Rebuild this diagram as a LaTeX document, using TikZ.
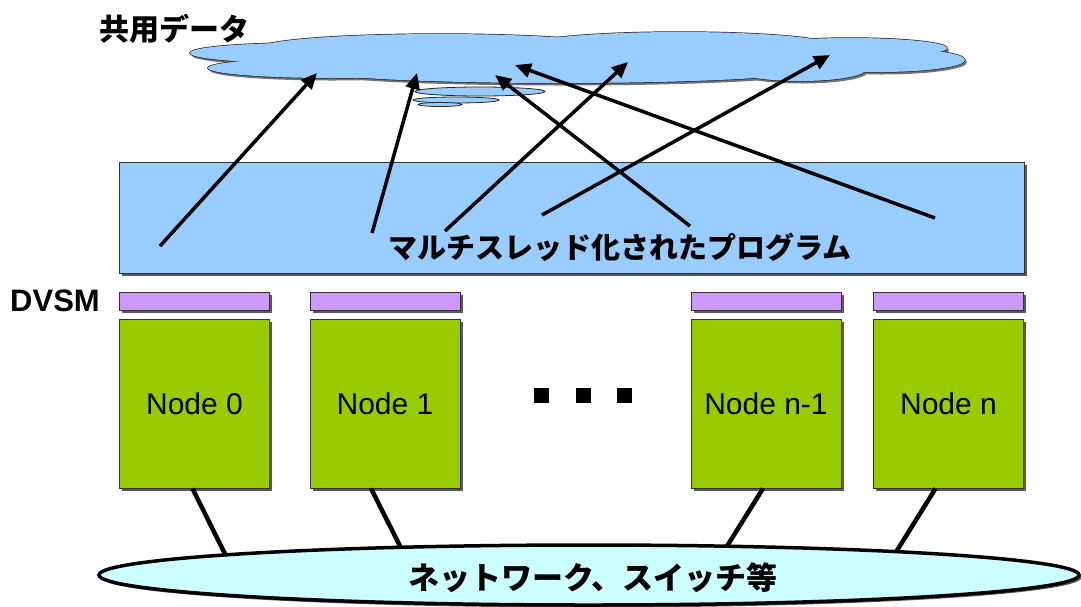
\documentclass[tikz,border=0pt]{standalone}
\usepackage{fontspec}
\setmainfont{Liberation Sans}
\newfontfamily\jp{Noto Sans CJK JP}
\usetikzlibrary{arrows.meta,shadows,shapes.geometric}
\definecolor{cloudblue}{HTML}{99CCFF}
\definecolor{dvsmviolet}{HTML}{CC99FF}
\definecolor{nodegreen}{HTML}{99CC00}
\definecolor{netcyan}{HTML}{CCFFFF}

\begin{document}
\begin{tikzpicture}[x=1pt,y=-1pt,
  hardshadow/.style={general shadow={fill=black!65,shadow xshift=2.5pt,shadow yshift=-2.5pt}},
  layerbox/.style={draw=black!80,line width=1pt,inner sep=0pt,hardshadow},
  dvsmbar/.style={layerbox,fill=dvsmviolet,minimum width=150pt,minimum height=18pt},
  nodebox/.style={layerbox,fill=nodegreen,minimum width=150pt,minimum height=169pt,
    font=\fontsize{30}{36}\selectfont},
  jplabel/.style={font=\jp\bfseries\fontsize{#1}{#1}\selectfont,inner sep=0pt},
  arrowline/.style={line width=3.5pt,-{Triangle[length=16pt,width=14pt]}},
  netline/.style={line width=4.5pt}]
  \useasboundingbox (0,0) rectangle (1081,606);

  % shared data cloud
  \def\cloudparts{300/53/110/10, 330/68/122/10, 440/48/180/14, 680/45/150/13,
    850/48/97/10, 880/60/85/12, 560/71/240/12, 800/70/65/11, 660/62/200/14}
  \foreach \cx/\cy/\rx/\ry in \cloudparts
    \fill[black!55] (\cx+2,\cy+2.5) ellipse [x radius=\rx,y radius=\ry];
  \foreach \cx/\cy/\rx/\ry in \cloudparts
    \draw[black!85,line width=1.4pt,fill=cloudblue] (\cx,\cy) ellipse [x radius=\rx,y radius=\ry];
  \foreach \cx/\cy/\rx/\ry in \cloudparts
    \fill[cloudblue] (\cx,\cy) ellipse [x radius=\rx,y radius=\ry];
  \foreach \cx/\cy/\rx/\ry in {480/91.5/65/4.5, 456/100/43/3, 440/104.5/22/2}
    \draw[black!85,line width=0.8pt,fill=cloudblue] (\cx,\cy) ellipse [x radius=\rx,y radius=\ry];
  \node[jplabel=30] (title) at (174,29) {共用データ};

  % program layer
  \node[layerbox,fill=cloudblue,minimum width=905pt,minimum height=111pt] (prog) at (571.5,217.5) {};
  \node[jplabel=29] (progtext) at (620,247) {マルチスレッド化されたプログラム};

  % DVSM and nodes
  \node[font=\bfseries\fontsize{31}{36}\selectfont] (dvsm) at (55,301) {DVSM};
  \node[dvsmbar] (d0) at (194.5,301) {};
  \node[dvsmbar] (d1) at (385,301) {};
  \node[dvsmbar] (d2) at (766,301) {};
  \node[dvsmbar] (d3) at (948.5,301) {};
  \node[nodebox] (n0) at (194.5,403.5) {Node 0};
  \node[nodebox] (n1) at (385,403.5) {Node 1};
  \node[nodebox] (n2) at (766,403.5) {Node n-1};
  \node[nodebox] (n3) at (948.5,403.5) {Node n};
  \foreach \i/\x in {1/541.5,2/583.5,3/624.5}
    \node[fill=black,minimum size=15pt,inner sep=0pt] (dot\i) at (\x,395.5) {};

  % network
  \coordinate (e0) at (228,560);
  \coordinate (e1) at (403,552);
  \coordinate (e2) at (724,551);
  \coordinate (e3) at (893,557);
  \draw[netline] ([xshift=-2pt]n0.south) -- (e0);
  \draw[netline] ([xshift=-14pt]n1.south) -- (e1);
  \draw[netline] ([xshift=-3pt]n2.south) -- (e2);
  \draw[netline] ([xshift=-13pt]n3.south) -- (e3);
  \node[ellipse,draw=black,line width=3.5pt,fill=netcyan,hardshadow,
    minimum width=980pt,minimum height=60pt,inner sep=0pt] (net) at (589,575) {};
  \node[jplabel=31] (nettext) at (593,578) {ネットワーク、スイッチ等};

  % threads writing to the shared data
  \coordinate (s1) at (160,246);  \coordinate (t1) at (317,73);
  \coordinate (s2) at (372,233);  \coordinate (t2) at (417,73);
  \coordinate (s3) at (445,231);  \coordinate (t3) at (628,62);
  \coordinate (s4) at (542,215);  \coordinate (t4) at (830,55);
  \coordinate (s5) at (690,226);  \coordinate (t5) at (495,75);
  \coordinate (s6) at (935,218);  \coordinate (t6) at (515,65);
  \foreach \i in {1,...,6}
    \draw[arrowline] (s\i) -- (t\i);
\end{tikzpicture}
\end{document}
